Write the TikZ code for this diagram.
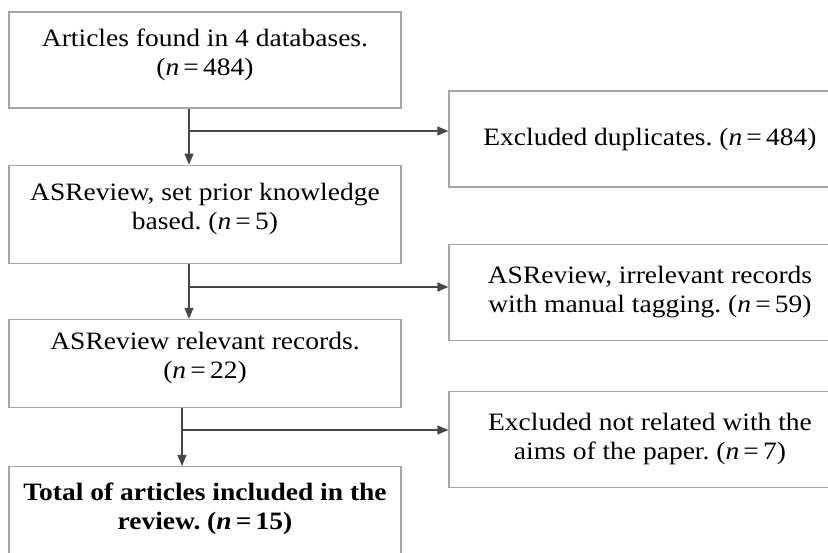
\documentclass[tikz,border=0pt]{standalone}
\usepackage{fontspec}
\setmainfont{Liberation Serif}[FakeStretch=1.1]
\usetikzlibrary{positioning}
\usetikzlibrary{arrows.meta}
\usepackage{xcolor}

\definecolor{boxgray}{RGB}{165,165,165}
\definecolor{linegray}{RGB}{70,70,70}
\newcommand{\nval}[1]{(\textit{n}\,=\,#1)}
\frenchspacing

\begin{document}
\begin{tikzpicture}[
  x=1pt, y=1pt,
  font=\fontsize{25}{29}\selectfont,
  box/.style={draw=boxgray, line width=1.2pt, align=center, minimum width=392pt, minimum height=96pt, text depth=16pt},
  sidebox/.style={draw=boxgray, line width=1.2pt, align=center, minimum width=402pt, minimum height=96pt},
  line/.style={draw=linegray, line width=1.2pt},
  arrow/.style={line, -{Triangle[length=11pt, width=9pt]}}
]
\useasboundingbox (0,0) rectangle (828,-553);
\clip (0,0) rectangle (828,-553);

\node[box] (found) at (205,-60) {Articles found in 4 databases.\\\nval{484}};
\node[box, minimum height=98pt, below=56pt of found] (prior) {ASReview, set prior knowledge\\based. \nval{5}};
\node[box, minimum height=88pt, below=55pt of prior] (relevant) {ASReview relevant records.\\\nval{22}};
\node[box, below=58pt of relevant, font=\fontsize{25}{29}\selectfont\bfseries] (total) {Total of articles included in the\\review. \nval{15}};

\node[sidebox] (dup) at (650,-139) {Excluded duplicates. \nval{484}};
\node[sidebox, below=56pt of dup] (irrel) {ASReview, irrelevant records\\with manual tagging. \nval{59}};
\node[sidebox, below=50pt of irrel] (aims) {Excluded not related with the\\aims of the paper. \nval{7}};

% junctions
\coordinate (j1) at (189,-131);
\coordinate (j2) at (189,-287);
\coordinate (j3) at (182,-430);

\draw[line] (found.south -| j1) -- (j1);
\draw[arrow] (j1) -- (prior.north -| j1);
\draw[arrow] (j1) -- (dup.west |- j1);

\draw[line] (prior.south -| j2) -- (j2);
\draw[arrow] (j2) -- (relevant.north -| j2);
\draw[arrow] (j2) -- (irrel.west |- j2);

\draw[line] (relevant.south -| j3) -- (j3);
\draw[arrow] (j3) -- (total.north -| j3);
\draw[arrow] (j3) -- (aims.west |- j3);

\end{tikzpicture}
\end{document}
